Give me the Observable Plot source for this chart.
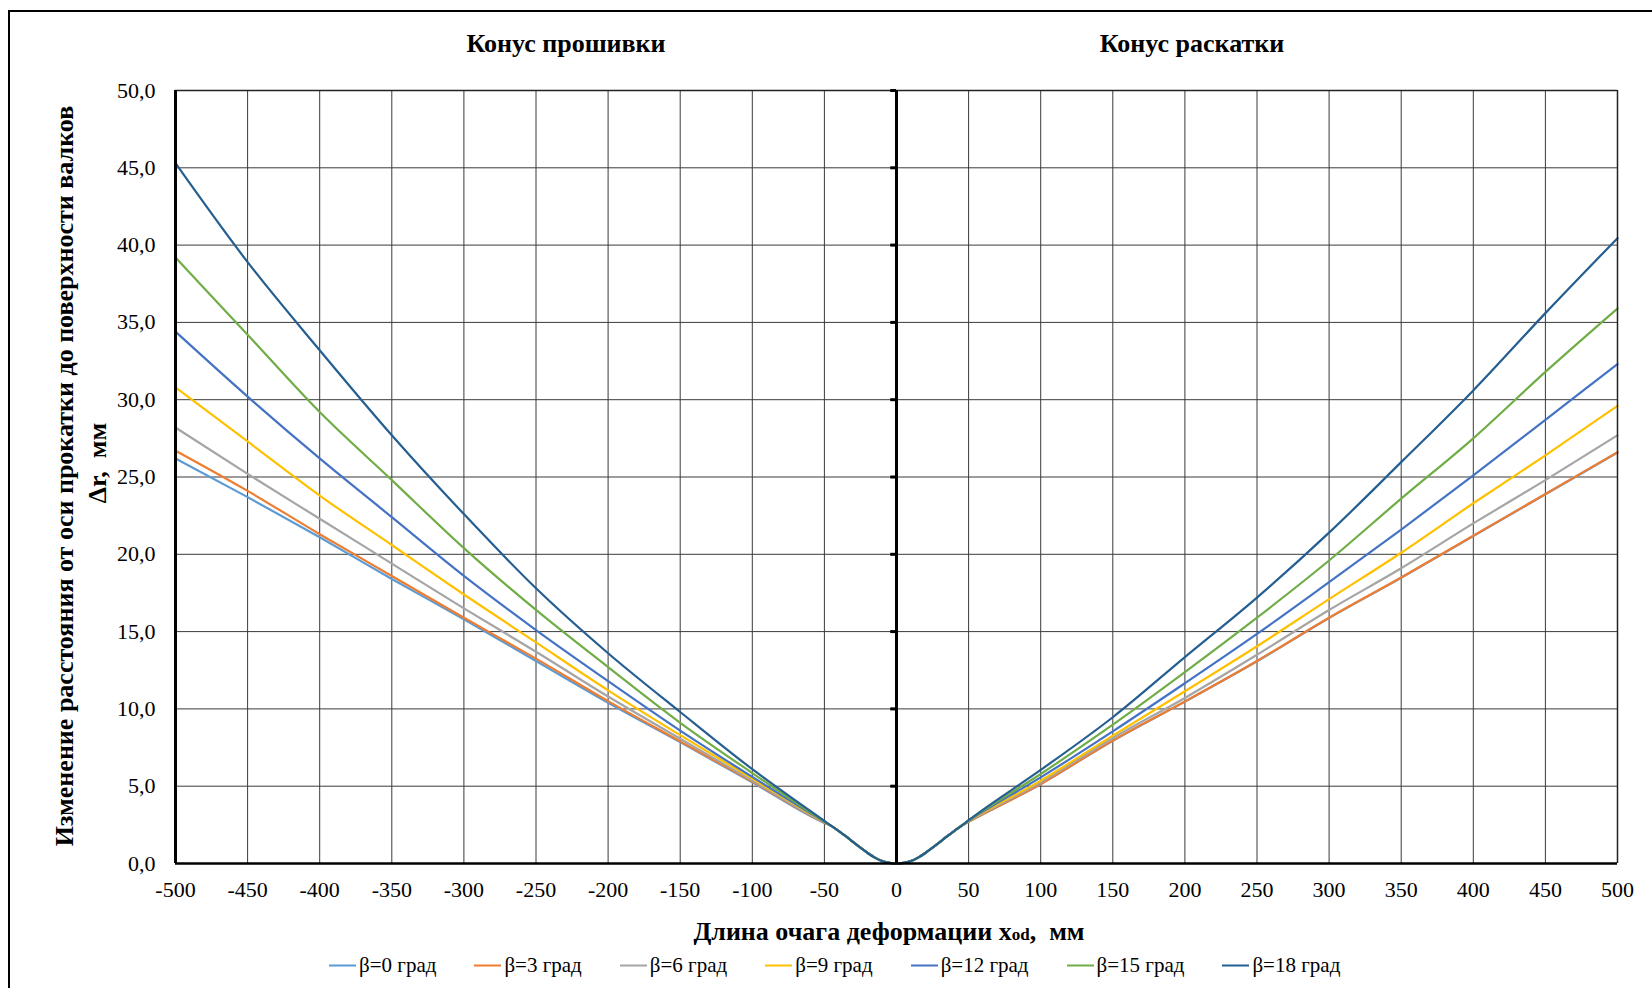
<!DOCTYPE html>
<html>
<head>
<meta charset="utf-8">
<script src="https://cdn.jsdelivr.net/npm/d3@7"></script>
<script src="https://cdn.jsdelivr.net/npm/@observablehq/plot@0.6"></script>
<style>
  html, body { margin: 0; padding: 0; background: #fff; }
  #wrap { position: relative; width: 1652px; height: 988px; overflow: hidden; font-family: "Liberation Serif", "Times New Roman", serif; color: #000; }
  #border { position: absolute; left: 8px; top: 10px; width: 1700px; height: 1100px; border: 2px solid #000; box-sizing: border-box; }
  .ttl { position: absolute; font-weight: bold; white-space: nowrap; transform: translate(-50%, -50%); }
  .ylab { position: absolute; font-weight: bold; white-space: nowrap; transform: translate(-50%, -50%) rotate(-90deg); }
  #legend { position: absolute; left: 329px; top: 965px; transform: translateY(-50%); display: flex; gap: 38px; font-size: 21px; white-space: nowrap; }
  .li { display: flex; align-items: center; }
  .sw { width: 27px; height: 2px; margin-right: 3px; }
</style>
</head>
<body>
<div id="wrap">
  <div id="border"></div>
  <div id="chart" style="position:absolute;left:0;top:0;"></div>
  <div class="ttl" style="left:566px;top:44px;font-size:26px;">Конус прошивки</div>
  <div class="ttl" style="left:1192px;top:44px;font-size:26px;">Конус раскатки</div>
  <div class="ylab" style="left:65px;top:476px;font-size:26px;">Изменение расстояния от оси прокатки до поверхности валков</div>
  <div class="ylab" style="left:98px;top:463px;font-size:26px;">Δr,&nbsp; мм</div>
  <div class="ttl" style="left:889px;top:932px;font-size:26px;">Длина очага деформации x<span style="font-size:17px;">od</span>,&nbsp; мм</div>
  <div id="legend"></div>
</div>
<script>
// ---- data ----
const seriesNames = ["β=0 град", "β=3 град", "β=6 град", "β=9 град", "β=12 град", "β=15 град", "β=18 град"];
const seriesColors = ["#5B9BD5", "#ED7D31", "#A5A5A5", "#FFC000", "#4472C4", "#70AD47", "#255E91"];

// x positions
const xLeft = [-500, -450, -400, -350, -300, -250, -200, -150, -100, -50];
const xNearLeft = [-45, -40, -35, -30, -25, -20, -15, -10, -5, 0];
const xNearRight = [5, 10, 15, 20, 25, 30, 35, 40, 45];
const xRight = [50, 100, 150, 200, 250, 300, 350, 400, 450, 500];

// shared transition near the origin (all series coincide there)
const nearLeft = [2.42, 2.1, 1.75, 1.38, 1.02, 0.68, 0.38, 0.16, 0.04, 0];
const nearRight = [0.04, 0.16, 0.38, 0.68, 1.02, 1.38, 1.75, 2.1, 2.44];

// piercing cone (x < 0)
const left0  = [26.2, 23.7, 21.1, 18.4, 15.8, 13.1, 10.4, 7.85, 5.25, 2.62];
const left3  = [26.7, 24.1, 21.3, 18.6, 15.9, 13.25, 10.5, 7.9, 5.3, 2.64];
const left6  = [28.2, 25.2, 22.3, 19.4, 16.5, 13.7, 10.8, 8.07, 5.37, 2.66];
const left9  = [30.8, 27.3, 23.8, 20.6, 17.4, 14.3, 11.2, 8.3, 5.5, 2.68];
const left12 = [34.4, 30.2, 26.2, 22.4, 18.6, 15.1, 11.8, 8.6, 5.6, 2.7];
const left15 = [39.2, 34.2, 29.2, 24.8, 20.4, 16.4, 12.7, 9.1, 5.85, 2.72];
const left18 = [45.3, 38.9, 33.2, 27.7, 22.6, 17.8, 13.6, 9.8, 6.1, 2.75];

// rolling cone (x > 0)
const right0  = [2.7, 5.13, 7.94, 10.47, 13.08, 15.88, 18.48, 21.18, 23.88, 26.58];
const right3  = [2.7, 5.14, 7.95, 10.48, 13.1, 15.9, 18.5, 21.2, 23.9, 26.6];
const right6  = [2.72, 5.25, 8.12, 10.71, 13.5, 16.4, 19.1, 22.0, 24.8, 27.7];
const right9  = [2.74, 5.36, 8.27, 11.14, 14.05, 17.1, 20.1, 23.3, 26.4, 29.6];
const right12 = [2.76, 5.57, 8.55, 11.66, 14.85, 18.2, 21.6, 25.1, 28.7, 32.3];
const right15 = [2.78, 5.79, 8.98, 12.38, 15.9, 19.6, 23.6, 27.5, 31.8, 35.9];
const right18 = [2.8, 6.05, 9.46, 13.35, 17.2, 21.4, 25.96, 30.6, 35.6, 40.45];

const xTicks = [-500, -450, -400, -350, -300, -250, -200, -150, -100, -50, 0, 50, 100, 150, 200, 250, 300, 350, 400, 450, 500];
const yTicks = [0, 5, 10, 15, 20, 25, 30, 35, 40, 45, 50];

// ---- build table ----
const lefts = [left0, left3, left6, left9, left12, left15, left18];
const rights = [right0, right3, right6, right9, right12, right15, right18];
const rows = [];
seriesNames.forEach((s, i) => {
  xLeft.forEach((x, j) => rows.push({s, x, y: lefts[i][j]}));
  xNearLeft.forEach((x, j) => rows.push({s, x, y: nearLeft[j]}));
  xNearRight.forEach((x, j) => rows.push({s, x, y: nearRight[j]}));
  xRight.forEach((x, j) => rows.push({s, x, y: rights[i][j]}));
});

const fmtY = d => d.toFixed(1).replace(".", ",");

const chart = Plot.plot({
  width: 1652,
  height: 905,
  marginLeft: 175,
  marginRight: 35,
  marginTop: 90,
  marginBottom: 42,
  style: {fontFamily: "'Liberation Serif', 'Times New Roman', serif", fontSize: "22px", color: "#000", background: "transparent", overflow: "visible"},
  x: {domain: [-500, 500], ticks: xTicks, tickFormat: d => String(d), tickSize: 0, tickPadding: 18, label: null},
  y: {domain: [0, 50], ticks: yTicks, tickFormat: fmtY, tickSize: 0, tickPadding: 20, label: null},
  color: {domain: seriesNames, range: seriesColors},
  marks: [
    Plot.ruleX(xTicks.filter(d => d !== 0), {stroke: "#3a3a3a", strokeWidth: 1}),
    Plot.ruleY(yTicks, {stroke: "#3a3a3a", strokeWidth: 1}),
    Plot.line(rows, {x: "x", y: "y", z: "s", stroke: "s", strokeWidth: 2.2, curve: "monotone-x"}),
    Plot.ruleY([50], {stroke: "#222", strokeWidth: 1.5}),
    Plot.ruleX([500], {stroke: "#222", strokeWidth: 1.5}),
    Plot.ruleX([-500], {stroke: "#000", strokeWidth: 3}),
    Plot.ruleY([0], {stroke: "#000", strokeWidth: 2.5}),
    Plot.ruleX([0], {stroke: "#000", strokeWidth: 3}),
    Plot.ruleY(yTicks.slice(1), {x1: -4, x2: 0, stroke: "#000", strokeWidth: 3})
  ]
});
document.getElementById("chart").appendChild(chart);

// legend
const lg = document.getElementById("legend");
seriesNames.forEach((s, i) => {
  const it = document.createElement("div");
  it.className = "li";
  const sw = document.createElement("div");
  sw.className = "sw";
  sw.style.background = seriesColors[i];
  const t = document.createElement("span");
  t.textContent = s;
  it.appendChild(sw); it.appendChild(t);
  lg.appendChild(it);
});
</script>
</body>
</html>
